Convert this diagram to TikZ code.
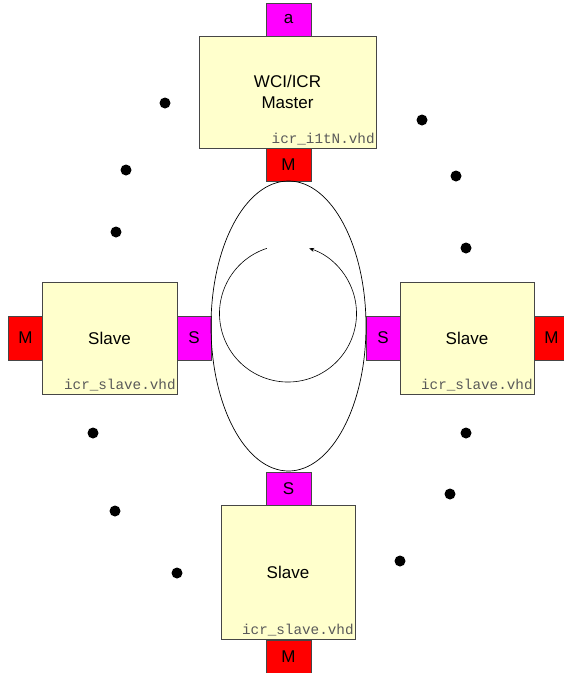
\documentclass[tikz,border=0pt]{standalone}
\usepackage{fontspec}
\setmainfont{Liberation Sans}
\newfontfamily\monofnt{Liberation Mono}
\usetikzlibrary{arrows.meta}
\definecolor{boxfill}{RGB}{255,255,204}
\definecolor{boxline}{RGB}{70,70,70}
\definecolor{magentaport}{RGB}{255,0,255}
\definecolor{redport}{RGB}{255,0,0}
\begin{document}
\begin{tikzpicture}[x=1pt,y=-1pt,
  blockbox/.style={draw=boxline,line width=0.7pt,fill=boxfill,inner sep=0pt,
    font=\fontsize{17}{21}\selectfont,align=center},
  portbox/.style={draw=boxline,line width=0.7pt,inner sep=0pt,
    minimum width=45pt,minimum height=33pt,font=\fontsize{17}{20}\selectfont},
  sport/.style={portbox,fill=magentaport},
  mport/.style={portbox,fill=redport},
  filelabel/.style={anchor=south east,inner xsep=1.5pt,inner ysep=3pt,text=black!65,
    font=\monofnt\fontsize{14.3}{15}\selectfont},
  dot/.style={fill=black,draw=none}]
\useasboundingbox (0,0) rectangle (564,673);

% master
\node[blockbox,minimum width=177pt,minimum height=112pt] (master) at (287.5,92) {WCI/ICR\\Master};
\node[filelabel] (masterlbl) at (master.south east) {icr\_i1tN.vhd};
\node[sport] (pa) at (288.5,19.5) {a};
\node[mport] (pm) at (288.5,164.5) {M};

% left slave
\node[blockbox,minimum width=135pt,minimum height=112pt] (lslave) at (109.5,338) {Slave};
\node[filelabel] (lslavelbl) at (lslave.south east) {icr\_slave.vhd};
\node[mport,minimum width=34pt,minimum height=44pt] (lm) at (25.5,338) {M};
\node[sport,minimum width=34pt,minimum height=44pt] (ls) at (194,338) {S};

% right slave
\node[blockbox,minimum width=134pt,minimum height=112pt] (rslave) at (467,338) {Slave};
\node[filelabel] (rslavelbl) at (rslave.south east) {icr\_slave.vhd};
\node[sport,minimum width=34pt,minimum height=44pt] (rs) at (383,338) {S};
\node[mport,minimum width=34pt,minimum height=44pt,anchor=west] (rm) at (534,338) {M};

% bottom slave
\node[blockbox,minimum width=134pt,minimum height=134pt] (bslave) at (288,572) {Slave};
\node[filelabel] (bslavelbl) at (bslave.south east) {icr\_slave.vhd};
\node[sport] (bs) at (288.5,488.5) {S};
\node[mport] (bm) at (288.5,656.5) {M};

% ring
\draw[line width=0.7pt] (288.5,326) ellipse [x radius=77.5, y radius=145];
\draw[line width=0.6pt,-{Stealth[length=5pt,width=4pt]}]
  (288,313.5) ++(-108:68.5) arc[start angle=-108,end angle=-432,radius=68.5];

% dots
\foreach \p in {(165,103),(126,170),(116,232),(422,120),(456,176),(466,248),
                (93,433),(115,511),(177,573),(466,433),(450,494),(400,561)}
  \fill[dot] \p circle (5.5);
\end{tikzpicture}
\end{document}
